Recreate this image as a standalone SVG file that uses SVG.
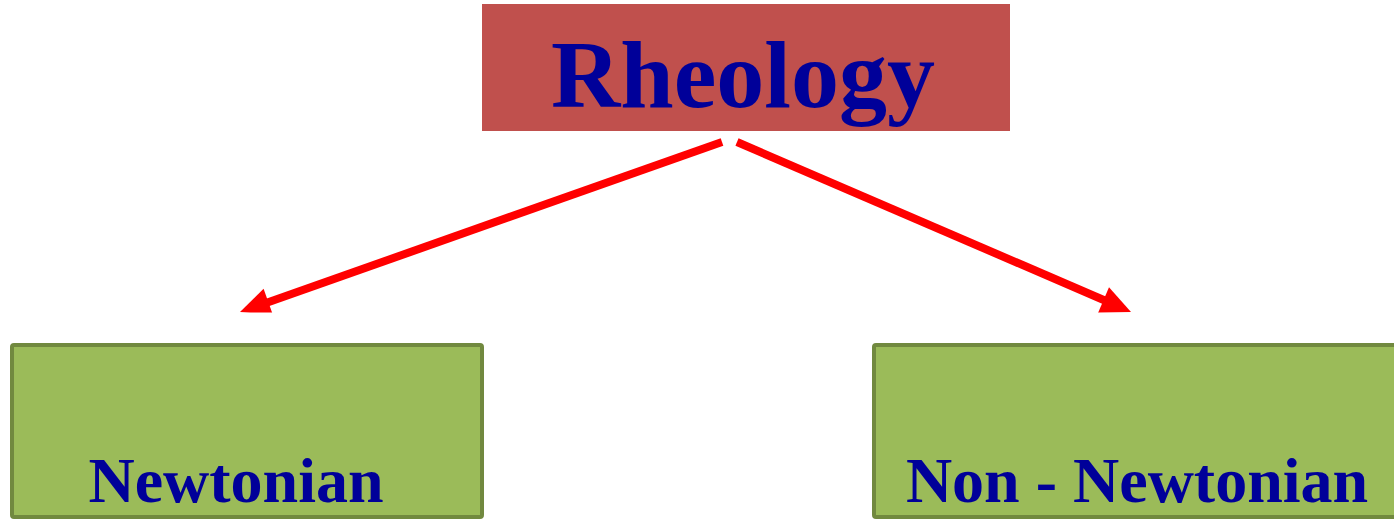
<svg xmlns="http://www.w3.org/2000/svg" width="1394" height="520" viewBox="0 0 1394 520">
<style>
.lbl{font-family:"Liberation Serif","Times New Roman",serif;font-weight:bold;fill:#000099;text-anchor:middle}
.leaf{fill:#9BBB59;stroke:#71893F;stroke-width:4}
.conn{stroke:#FF0000;stroke-width:8;fill:none}
.head{fill:#FF0000}
</style>
<defs>
<clipPath id="clip"><rect x="0" y="135" width="1394" height="177.5"/></clipPath>
</defs>
<rect width="1394" height="520" fill="#FFFFFF"/>
<g id="rheology">
<rect x="482" y="4" width="528" height="127" fill="#C0504D"/>
<text class="lbl" x="743" y="107" font-size="96">Rheology</text>
</g>
<g id="newtonian">
<rect class="leaf" x="12" y="345" width="470" height="172" rx="2"/>
<text class="lbl" x="236" y="502" font-size="64">Newtonian</text>
</g>
<g id="non-newtonian">
<rect class="leaf" x="874" y="345" width="540" height="172" rx="2"/>
<text class="lbl" x="1137" y="502" font-size="64">Non - Newtonian</text>
</g>
<g id="connectors" clip-path="url(#clip)">
<line class="conn" x1="722" y1="142" x2="266" y2="303"/>
<polygon class="head" points="240,312 263.6,288.8 273,315.2"/>
<line class="conn" x1="737" y1="142" x2="1106" y2="301"/>
<polygon class="head" points="1131,312 1109,287.2 1098,313"/>
</g>
</svg>
